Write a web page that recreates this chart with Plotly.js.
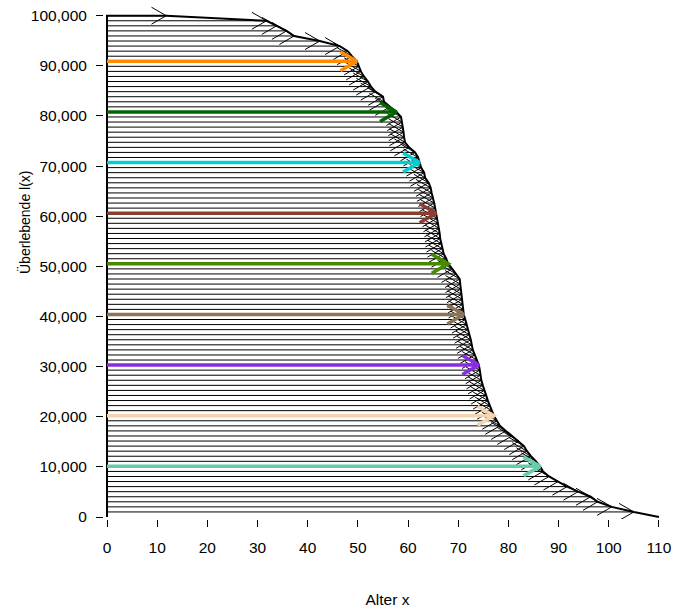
<!DOCTYPE html>
<html>
<head>
<meta charset="utf-8">
<script src="https://cdn.plot.ly/plotly-3.0.1.min.js"></script>
<style>html,body{margin:0;padding:0;background:#fff;}#chart{width:677px;height:611px;}</style>
</head>
<body>
<div id="chart"></div>
<script>
// Death age of each of the 100 persons (sorted)
const deathAge = [
  11.8, 31.8, 33.8, 35.8, 37.3, 42.4, 46.4, 48.0, 48.8, 49.8,
  50.2, 50.6, 51.2, 52.0, 52.6, 53.5, 55.0, 55.2, 56.4, 57.7,
  58.6, 58.8, 59.0, 59.1, 59.2, 59.4, 60.2, 61.4, 62.0, 62.3,
  62.6, 63.2, 63.4, 64.1, 64.5, 64.7, 65.0, 65.2, 65.4, 65.6,
  65.8, 66.0, 66.2, 66.3, 66.4, 66.6, 66.8, 67.1, 67.6, 68.0,
  68.8, 69.6, 70.3, 70.4, 70.5, 70.7, 70.8, 70.9, 71.0, 71.1,
  71.4, 71.7, 71.9, 72.2, 72.5, 72.7, 72.9, 73.3, 73.7, 74.1,
  74.3, 74.4, 74.6, 74.9, 75.2, 75.5, 75.9, 76.3, 76.7, 77.1,
  77.7, 78.3, 79.5, 80.7, 82.1, 83.1, 83.7, 84.5, 85.5, 86.3,
  86.9, 88.1, 89.9, 91.7, 93.9, 96.4, 97.8, 100.6, 105.0, 110.0
];
// Survivors l(x) at which each arrow is drawn
const survivors = [
  100000, 98990, 97980, 96970, 95960, 94949, 93939, 92929, 91919, 90909,
  89899, 88889, 87879, 86869, 85859, 84848, 83838, 82828, 81818, 80808,
  79798, 78788, 77778, 76768, 75758, 74747, 73737, 72727, 71717, 70707,
  69697, 68687, 67677, 66667, 65657, 64646, 63636, 62626, 61616, 60606,
  59596, 58586, 57576, 56566, 55556, 54545, 53535, 52525, 51515, 50505,
  49495, 48485, 47475, 46465, 45455, 44444, 43434, 42424, 41414, 40404,
  39394, 38384, 37374, 36364, 35354, 34343, 33333, 32323, 31313, 30303,
  29293, 28283, 27273, 26263, 25253, 24242, 23232, 22222, 21212, 20202,
  19192, 18182, 17172, 16162, 15152, 14141, 13131, 12121, 11111, 10101,
  9091, 8081, 7071, 6061, 5051, 4040, 3030, 2020, 1010, 0
];
// highlighted persons (index into the arrays) and their colours
const highlightIndex = [9, 19, 29, 39, 49, 59, 69, 79, 89];
const highlightColor = ['#FF8C00', '#006400', '#00CED1', '#8B3E2F', '#458B00',
                        '#8B7355', '#8A2BE2', '#F5D3B0', '#66CDAA'];
const xTicks = [0, 10, 20, 30, 40, 50, 60, 70, 80, 90, 100, 110];
const yTicks = [0, 10000, 20000, 30000, 40000, 50000, 60000, 70000, 80000, 90000, 100000];

const W = 677, H = 611;
const margin = {l: 104, r: 6, t: 5, b: 92};
const xRange = [-0.598, 112.4];
const yRange = [-399, 102135];
const plotW = W - margin.l - margin.r, plotH = H - margin.t - margin.b;
const sx = plotW / (xRange[1] - xRange[0]);
const sy = plotH / (yRange[1] - yRange[0]);

function head(tx, ty, lenPx) {
  const ang = 30 * Math.PI / 180;
  const dx = lenPx * Math.cos(ang) / sx;
  const dy = lenPx * Math.sin(ang) / sy;
  return {x: [tx - dx, tx, tx - dx, null], y: [ty + dy, ty, ty - dy, null]};
}

const traces = [];
// black arrows
const bx = [], by = [], hx = [], hy = [];
for (let i = 0; i < deathAge.length; i++) {
  if (survivors[i] <= 0) continue;
  bx.push(0, deathAge[i], null);
  by.push(survivors[i], survivors[i], null);
  const h = head(deathAge[i], survivors[i], 17);
  hx.push(...h.x); hy.push(...h.y);
}
traces.push({type: 'scatter', mode: 'lines', x: bx, y: by, line: {color: '#000', width: 1}, hoverinfo: 'skip'});
traces.push({type: 'scatter', mode: 'lines', x: hx, y: hy, line: {color: '#000', width: 1}, hoverinfo: 'skip'});
// survival curve
traces.push({type: 'scatter', mode: 'lines', x: [0, 0].concat(deathAge), y: [0, survivors[0]].concat(survivors),
  line: {color: '#000', width: 2}, hoverinfo: 'skip'});
// highlighted arrows
highlightIndex.forEach((idx, j) => {
  const a = deathAge[idx], s = survivors[idx];
  const h = head(a, s, 19);
  traces.push({type: 'scatter', mode: 'lines', x: [0, a, null].concat(h.x), y: [s, s, null].concat(h.y),
    line: {color: highlightColor[j], width: 3.5}, hoverinfo: 'skip'});
});

const font = {family: 'Liberation Sans, Arial, sans-serif', size: 15.5, color: '#000'};
const layout = {
  width: W, height: H, margin: margin, showlegend: false,
  paper_bgcolor: '#fff', plot_bgcolor: '#fff', font: font,
  xaxis: {range: xRange, tickvals: xTicks, ticks: 'outside', ticklen: 7, tickcolor: '#000', tickwidth: 1,
    showline: false, showgrid: false, zeroline: false, ticklabelstandoff: 7, tickfont: font,
    title: {text: 'Alter x', font: font, standoff: 39}},
  yaxis: {range: yRange, tickvals: yTicks, tickformat: ',d', ticks: 'outside', ticklen: 7, tickcolor: '#000', tickwidth: 1,
    showline: false, showgrid: false, zeroline: false, ticklabelstandoff: 6, tickfont: font},
  annotations: [{text: 'Überlebende l(x)', textangle: -90, xref: 'paper', yref: 'paper',
    x: (24 - margin.l) / plotW, y: 1 - (222 - margin.t) / plotH, xanchor: 'center', yanchor: 'middle',
    showarrow: false, font: {family: font.family, size: 14, color: '#000'}}]
};
Plotly.newPlot('chart', traces, layout, {displayModeBar: false, staticPlot: true});
</script>
</body>
</html>
